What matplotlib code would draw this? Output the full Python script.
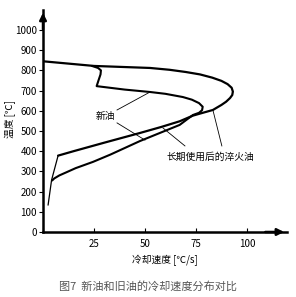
import matplotlib
matplotlib.use("Agg")
import matplotlib.pyplot as plt

plt.rcParams["font.family"] = ["Noto Sans CJK SC", "DejaVu Sans"]

# used oil (outer loop) - cooling speed [C/s] vs temperature [C]
used_speed = [0, 25, 52.5, 62, 70, 77, 83, 87.5, 90.5, 92.5, 93.1, 92.8, 91.7, 89.8,
              87.5, 83.3, 78, 73.5, 67, 58, 47.5, 30, 15, 7.4]
used_temp = [845, 822, 812, 803, 792, 780, 764, 748, 732, 714, 695, 678, 663, 645,
             629, 604, 589, 576, 548, 520, 490, 442, 400, 378]
used_tail_speed = [7.4, 4.2, 2.5]
used_tail_temp = [378, 257, 134]

# new oil (inner loop)
new_speed = [24, 27, 28.4, 28.2, 27.2, 26.3, 40, 52.5, 60, 68.6, 73, 76.5, 78.3, 78,
             76.5, 73.5, 67, 47.5, 33, 24.5, 16, 11.8, 8, 5.5, 4.5]
new_temp = [822, 812, 800, 780, 750, 722, 705, 693, 684, 668, 655, 638, 620, 603,
            590, 579, 530, 450, 383, 347, 316, 297, 280, 265, 255]

y_ticks = [0, 100, 200, 300, 400, 500, 600, 700, 800, 900, 1000]
x_ticks = [25, 50, 75, 100]

fig = plt.figure(figsize=(2.96, 2.97), dpi=100)
ax = fig.add_axes([0.1453, 0.2189, 0.824, 0.7475])
ax.set_xlim(0, 119.6)
ax.set_ylim(0, 1099)

ax.plot(used_speed, used_temp, color="black", lw=1.6, solid_capstyle="round",
        solid_joinstyle="round")
ax.plot(used_tail_speed, used_tail_temp, color="black", lw=0.9)
ax.plot(new_speed, new_temp, color="black", lw=1.5, solid_capstyle="round",
        solid_joinstyle="round")

for s in ["top", "right"]:
    ax.spines[s].set_visible(False)
for s in ["left", "bottom"]:
    ax.spines[s].set_linewidth(1.8)

# axis arrows
ax.annotate("", xy=(1.0, 0), xycoords="axes fraction", xytext=(0.9, 0),
            arrowprops=dict(arrowstyle="-|>", color="black", lw=1.8, mutation_scale=10))
ax.annotate("", xy=(0, 1.0), xycoords="axes fraction", xytext=(0, 0.9),
            arrowprops=dict(arrowstyle="-|>", color="black", lw=1.8, mutation_scale=10))

ax.set_yticks(y_ticks)
ax.set_yticklabels([str(v) for v in y_ticks])
ax.set_xticks([0] + x_ticks)
ax.set_xticklabels([""] + [str(v) for v in x_ticks])
ax.tick_params(axis="y", direction="out", length=3, width=0.8, labelsize=7, pad=1.5)
ax.tick_params(axis="x", direction="in", length=3, width=0.8, labelsize=7, pad=5)

ax.set_ylabel("温度 [℃]", fontsize=7)
ax.yaxis.set_label_coords(-0.11, 0.51)
ax.set_xlabel("冷却速度 [℃/s]", fontsize=7, labelpad=4)

# labels with leader lines
ax.text(30.4, 574, "新油", fontsize=7, ha="center", va="center")
ax.plot([36.3, 52.5], [604, 693], color="black", lw=0.6)
ax.plot([36.3, 50], [540, 455], color="black", lw=0.6)

ax.text(81.9, 371, "长期使用后的淬火油", fontsize=7, ha="center", va="center")
ax.plot([58.8, 69.6], [515, 426], color="black", lw=0.6)
ax.plot([83.3, 87.7], [604, 426], color="black", lw=0.6)

fig.text(0.5, 0.037, "图7  新油和旧油的冷却速度分布对比", fontsize=8, color="#555555",
         ha="center", va="center")

fig.savefig("out.png", dpi=100)
